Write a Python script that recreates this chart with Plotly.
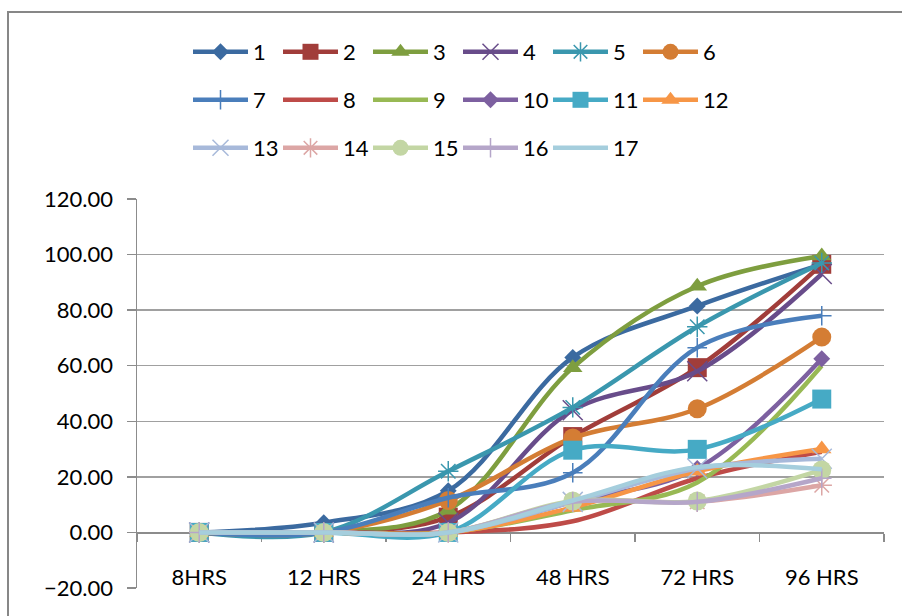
import plotly.graph_objects as go

categories = ["8HRS", "12 HRS", "24 HRS", "48 HRS", "72 HRS", "96 HRS"]
series_names = [str(i) for i in range(1, 18)]

s1 = [0, 3.5, 15, 63, 81.5, 96.5]
s2 = [0, 0, 5.5, 34.5, 59.3, 96.5]
s3 = [0, 0, 8, 59.3, 88.6, 99.5]
s4 = [0, 0, 3.5, 44, 58, 93]
s5 = [0, 0, 22, 45, 74, 97]
s6 = [0, 0, 11.5, 34, 44.5, 70.3]
s7 = [0, 0, 12.5, 21.5, 66.5, 78]
s8 = [0, 0, 0, 4, 19.5, 29]
s9 = [0, 0, 0, 8, 18, 60]
s10 = [0, 0, 0, 11, 23, 62.5]
s11 = [0, 0, 0, 29.6, 29.9, 48]
s12 = [0, 0, 0, 9, 22, 30]
s13 = [0, 0, 0, 11, 23, 26.5]
s14 = [0, 0, 0, 11, 11, 17]
s15 = [0, 0, 0, 11.3, 11.3, 22.5]
s16 = [0, 0, 0, 11, 11, 19.5]
s17 = [0, 0, 0, 11.5, 23.5, 22.7]
all_values = [s1, s2, s3, s4, s5, s6, s7, s8, s9, s10, s11, s12, s13, s14, s15, s16, s17]

colors = ["#3B6AA0", "#A13D3A", "#7E9E3F", "#684C8A", "#3A97AE", "#D47D34",
          "#4A7EBB", "#BE4B48", "#98B954", "#7D60A0", "#46AAC5", "#F79646",
          "#A7B9DA", "#DCA6A5", "#C3D6A4", "#B5A6C9", "#A5CEDD"]
symbols = ["diamond", "square", "triangle-up", "x-thin-open", "asterisk-open", "circle",
           "cross-thin-open", None, None, "diamond", "square", "triangle-up",
           "x-thin-open", "asterisk-open", "circle", "cross-thin-open", None]
sizes = [13, 19, 17, 20, 17, 19, 14, 0, 0, 13, 19, 17, 20, 17, 19, 14, 0]

FONT = "Lato"
fig = go.Figure()
for i, (name, vals) in enumerate(zip(series_names, all_values)):
    sym = symbols[i]
    legend_id = "legend" if i < 6 else ("legend2" if i < 12 else "legend3")
    if sym is None:
        mode = "lines"
        marker = None
    else:
        mode = "lines+markers"
        marker = dict(symbol=sym, size=sizes[i], color=colors[i],
                      line=dict(width=1.5 if "thin" in sym or "asterisk" in sym else 0,
                                color=colors[i]))
    fig.add_trace(go.Scatter(
        x=categories, y=vals, name=name, mode=mode,
        line=dict(color=colors[i], width=4.5, shape="spline", smoothing=1),
        marker=marker, legend=legend_id, cliponaxis=False,
    ))

L, R, T, B = 137, 884, 199, 588
W, H = 902, 616
pw, ph = R - L, B - T

def px_x(p):
    return (p - L) / pw

def px_y(p):
    return (B - p) / ph

leg_common = dict(orientation="h", xanchor="left", yanchor="middle",
                  font=dict(family=FONT, size=22, color="#000000"),
                  itemwidth=55, entrywidth=20, entrywidthmode="pixels",
                  bgcolor="rgba(0,0,0,0)", borderwidth=0,
                  itemclick=False, itemdoubleclick=False)

fig.update_layout(
    width=W, height=H,
    margin=dict(l=L, r=W - R, t=T, b=H - B, autoexpand=False),
    paper_bgcolor="white", plot_bgcolor="white",
    font=dict(family=FONT, size=22, color="#000000"),
    showlegend=True,
    hovermode=False,
    legend=dict(x=px_x(188), y=px_y(52), **leg_common),
    legend2=dict(x=px_x(188), y=px_y(100), **leg_common),
    legend3=dict(x=px_x(188), y=px_y(148), **leg_common),
    xaxis=dict(type="category", range=[-0.5, 5.5], showgrid=False,
               showline=True, linecolor="#8C8C8C", linewidth=1.5,
               ticks="outside", tickson="boundaries", ticklen=8,
               tickcolor="#8C8C8C", tickwidth=1.5,
               anchor="free", position=20 / 140, layer="below traces",
               ticklabelstandoff=25,
               tickfont=dict(family=FONT, size=22, color="#000000")),
    yaxis=dict(range=[-20, 120], dtick=20, tick0=0, tickformat=".2f",
               showgrid=True, gridcolor="#A0A0A0", gridwidth=1.5,
               zeroline=False, showline=True, linecolor="#8C8C8C", linewidth=1.5,
               ticks="outside", ticklen=9, tickcolor="#8C8C8C", tickwidth=1.5,
               ticklabelstandoff=9,
               layer="below traces",
               tickfont=dict(family=FONT, size=22, color="#000000")),
    shapes=[dict(type="rect", xref="paper", yref="paper",
                 x0=px_x(8), x1=px_x(912), y0=px_y(12), y1=px_y(630),
                 line=dict(color="#878787", width=2), fillcolor="rgba(0,0,0,0)",
                 layer="below")],
)

fig.write_html("out.html",
               config={"displayModeBar": False, "staticPlot": True},
               post_script="document.body.style.margin='0';document.body.style.padding='0';")
